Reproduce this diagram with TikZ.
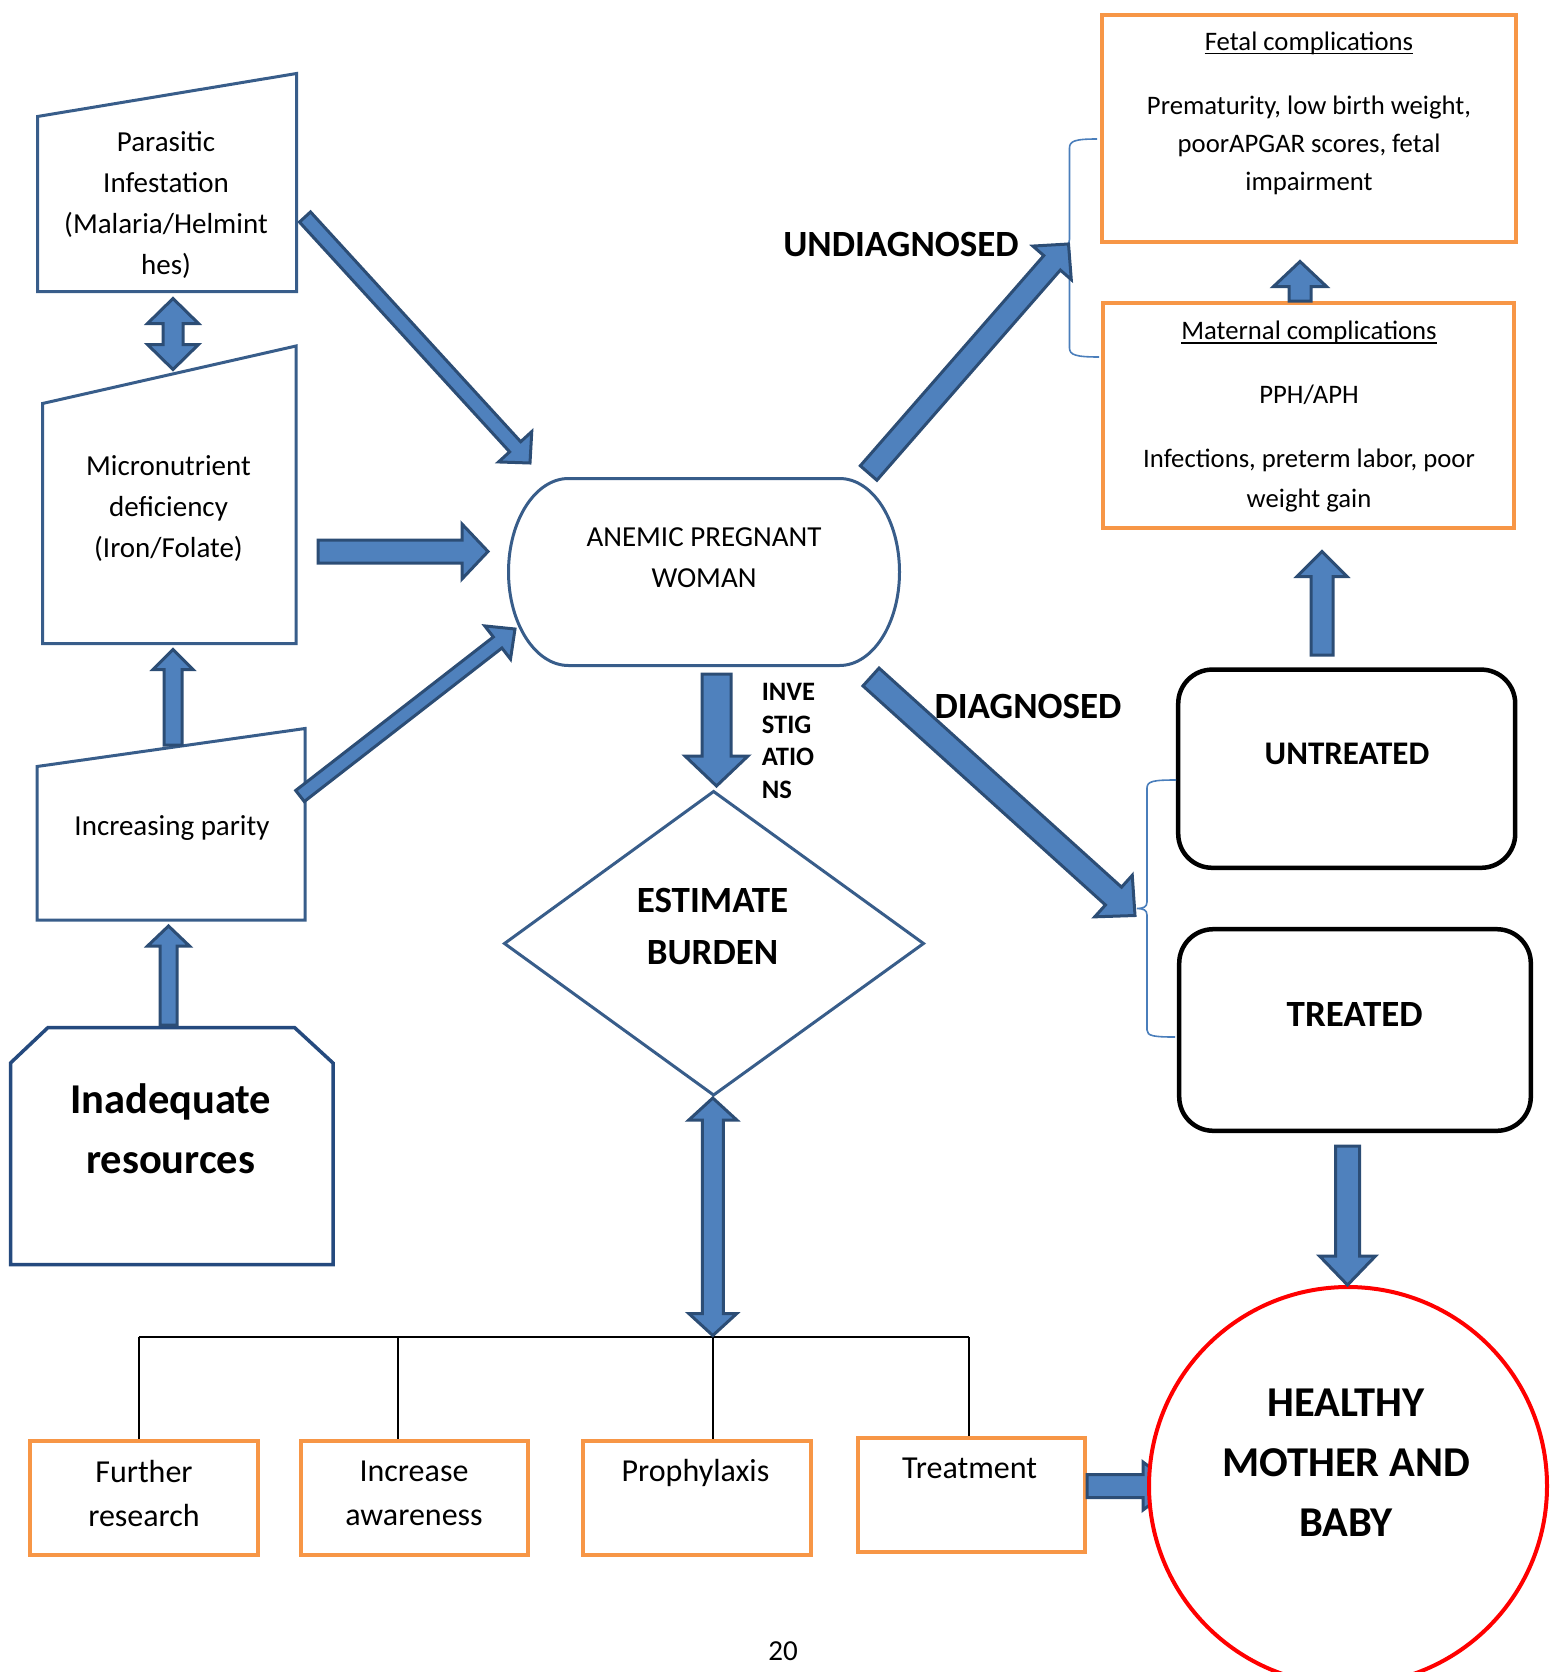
\documentclass[tikz,border=0pt]{standalone}
\usepackage{fontspec}
\setmainfont{Carlito}
\usetikzlibrary{calc}
\definecolor{boxblue}{HTML}{385D8A}
\definecolor{deepblue}{HTML}{254A7E}
\definecolor{arrline}{HTML}{2C4D75}
\definecolor{arrfill}{HTML}{4F81BD}
\definecolor{orangeline}{HTML}{F79646}
\definecolor{braceline}{HTML}{4A7EBB}
\definecolor{redline}{HTML}{FF0000}
\tikzset{
  bluebox/.style={draw=boxblue, line width=3pt, fill=white},
  barrow/.style={draw=arrline, fill=arrfill, line width=3pt, line join=miter},
  orangebox/.style={draw=orangeline, line width=4pt},
  blackbox/.style={draw=black, line width=4.5pt, rounded corners=34pt},
  bracepath/.style={draw=braceline, line width=1.6pt},
  treeline/.style={draw=black, line width=2pt},
  lbl/.style={inner sep=0pt, align=center, text=black},
  reg/.style={lbl, font=\fontsize{29pt}{41pt}\selectfont},
  sml/.style={lbl, font=\fontsize{26.7pt}{38pt}\selectfont},
  smlwide/.style={lbl, font=\fontsize{26.7pt}{40.4pt}\selectfont},
  med/.style={lbl, font=\fontsize{32pt}{44.7pt}\selectfont},
  bigbold/.style={lbl, font=\bfseries\fontsize{42.5pt}{60pt}\selectfont},
  headbold/.style={lbl, font=\bfseries\fontsize{37pt}{51.5pt}\selectfont},
  untrbold/.style={lbl, font=\bfseries\fontsize{33pt}{40pt}\selectfont},
  invbold/.style={lbl, font=\bfseries\fontsize{26.6pt}{32.7pt}\selectfont},
}
% block arrow: [opts]{start}{end}{shaft half}{head half}{head length}
\newcommand\blockarrow[6][]{%
  \coordinate (bah) at ($(#3)!#6!(#2)$);
  \draw[barrow,#1] ($(#2)!#4!90:(#3)$) -- ($(bah)!#4!-90:(#2)$) -- ($(bah)!#5!-90:(#2)$) -- (#3)
    -- ($(bah)!#5!90:(#2)$) -- ($(bah)!#4!90:(#2)$) -- ($(#2)!#4!-90:(#3)$) -- cycle;}
% double block arrow
\newcommand\dblarrow[6][]{%
  \coordinate (dah) at ($(#2)!#6!(#3)$);
  \coordinate (dbh) at ($(#3)!#6!(#2)$);
  \draw[barrow,#1] (#2) -- ($(dah)!#5!90:(#3)$) -- ($(dah)!#4!90:(#3)$) -- ($(dbh)!#4!-90:(#2)$)
    -- ($(dbh)!#5!-90:(#2)$) -- (#3) -- ($(dbh)!#5!90:(#2)$) -- ($(dbh)!#4!90:(#2)$)
    -- ($(dah)!#4!-90:(#3)$) -- ($(dah)!#5!-90:(#3)$) -- cycle;}
\begin{document}
\begin{tikzpicture}[x=1pt,y=-1pt]
\useasboundingbox (0,0) rectangle (1552,1672);
\clip (0,0) rectangle (1552,1672);

% ---------- left column shapes ----------
\draw[bluebox] (37.5,116.5) -- (296.5,73.5) -- (296.5,291.5) -- (37.5,291.5) -- cycle;
\draw[bluebox] (42.5,403.5) -- (296,346) -- (296,643.5) -- (42.5,643.5) -- cycle;
\draw[bluebox] (37,766.5) -- (305,728.5) -- (305,920) -- (37,920) -- cycle;
\draw[draw=deepblue, line width=3.5pt, fill=white] (48,1027.5) -- (294.5,1027.5) -- (333,1063) -- (333,1264.5) -- (10.5,1264.5) -- (10.5,1063) -- cycle;

% ---------- centre shapes ----------
\draw[bluebox] (568.5,478.5) -- (839.5,478.5) arc[start angle=90,end angle=-90,x radius=60pt,y radius=93.5pt]
  -- (568.5,665.5) arc[start angle=-90,end angle=-270,x radius=60pt,y radius=93.5pt] -- cycle;
\draw[bluebox] (713.6,791.5) -- (923.5,943.5) -- (713.6,1095) -- (504.5,943.5) -- cycle;

% ---------- right shapes ----------
\draw[orangebox] (1101.5,15) rectangle (1515.5,242);
\draw[orangebox] (1103,303) rectangle (1514,528);
\draw[blackbox] (1178.2,669.6) rectangle (1515.2,867.8);
\draw[blackbox] (1179.2,929.2) rectangle (1530.8,1130.8);

% braces
\draw[bracepath] (1097,139) .. controls (1075,139) and (1069.5,141) .. (1069.5,148) -- (1069.5,239)
  .. controls (1069.5,244) and (1067,245) .. (1063,245.5) .. controls (1067,246) and (1069.5,247) .. (1069.5,252)
  -- (1069.5,348) .. controls (1069.5,355) and (1076,357) .. (1099,357);
\draw[bracepath] (1176,780) .. controls (1154,780) and (1147,781) .. (1147,788) -- (1147,902)
  .. controls (1147,907) and (1143,908.5) .. (1137,908.5) .. controls (1143,908.5) and (1147,910) .. (1147,915)
  -- (1147,1030) .. controls (1147,1036) and (1154,1037) .. (1175,1037);

% ---------- bottom boxes and tree ----------
\draw[orangebox] (29.5,1441) rectangle (258,1554.5);
\draw[orangebox] (300.5,1441) rectangle (528,1554.5);
\draw[orangebox] (582.5,1441) rectangle (811,1554.5);
\draw[orangebox] (857.5,1438) rectangle (1085,1551.5);
\coordinate (tl) at (138.6,1336.8);
\coordinate (tr) at (968.5,1336.8);
\coordinate (tm) at (712.8,1336.8);
\coordinate (tb1) at (138.6,1439);
\coordinate (tb2) at (398,1439);
\coordinate (tb3) at (712.8,1439);
\coordinate (tb4) at (968.5,1436);
\draw[treeline] (tl) -- (tr);
\draw[treeline] (tl) -- (tb1);
\draw[treeline] (tb2 |- tl) -- (tb2);
\draw[treeline] (tm) -- (tb3);
\draw[treeline] (tr) -- (tb4);

% ---------- arrows ----------
\coordinate (a1s) at (305,217);   \coordinate (a1e) at (530,463);
\blockarrow{a1s}{a1e}{7.5pt}{22.5pt}{22pt}
\coordinate (a2s) at (318,551.5); \coordinate (a2e) at (488,551.5);
\blockarrow{a2s}{a2e}{11.5pt}{27.5pt}{26pt}
\coordinate (a3s) at (300,796);   \coordinate (a3e) at (515,629);
\blockarrow{a3s}{a3e}{7pt}{21pt}{22pt}
\coordinate (a4s) at (173,298.5); \coordinate (a4e) at (173,369.5);
\dblarrow{a4s}{a4e}{10pt}{25.5pt}{25pt}
\coordinate (a5s) at (173,745);   \coordinate (a5e) at (173,649.5);
\blockarrow{a5s}{a5e}{9pt}{20pt}{20pt}
\coordinate (a6s) at (168.5,1025); \coordinate (a6e) at (168.5,926);
\blockarrow{a6s}{a6e}{8.5pt}{21pt}{20pt}
\coordinate (a7s) at (716.5,674); \coordinate (a7e) at (716.5,786);
\blockarrow{a7s}{a7e}{14.5pt}{31.5pt}{30pt}
\coordinate (a8s) at (712.8,1098); \coordinate (a8e) at (712.8,1335.5);
\dblarrow{a8s}{a8e}{10.5pt}{24pt}{22pt}
\coordinate (a9s) at (871,677);   \coordinate (a9e) at (1135,915.5);
\blockarrow{a9s}{a9e}{12pt}{28pt}{29pt}
\coordinate (a10s) at (868.6,473); \coordinate (a10e) at (1068.5,244);
\blockarrow{a10s}{a10e}{11pt}{25.5pt}{25pt}
\coordinate (a11s) at (1300,301); \coordinate (a11e) at (1300,261.5);
\blockarrow{a11s}{a11e}{11pt}{26.5pt}{25pt}
\coordinate (a12s) at (1322,655); \coordinate (a12e) at (1322,551.5);
\blockarrow{a12s}{a12e}{11pt}{25pt}{25pt}
\coordinate (a13s) at (1347.5,1146); \coordinate (a13e) at (1347.5,1285);
\coordinate (a14s) at (1087,1486); \coordinate (a14e) at (1175,1486);
\blockarrow{a14s}{a14e}{11.5pt}{24pt}{32pt}

% healthy circle (over the arrow head)
\draw[draw=redline, line width=4pt, fill=white] (1348,1486) circle[radius=199pt];
\blockarrow{a13s}{a13e}{12pt}{28pt}{29pt}

% ---------- texts ----------
\node[reg] (t-para) at (166,205) {Parasitic\\Infestation\\(Malaria/Helmint\\hes)};
\node[reg] (t-micro) at (168.5,508.5) {Micronutrient\\deficiency\\(Iron/Folate)};
\node[reg] (t-parity) at (172,827.6) {Increasing parity};
\node[bigbold] (t-inad) at (170.7,1128.8) {Inadequate\\resources};
\node[reg] (t-anemic) at (704,557.5) {ANEMIC PREGNANT\\WOMAN};
\node[invbold, align=left, anchor=west] (t-inv) at (761.6,741) {INVE\\STIG\\ATIO\\NS};
\node[headbold] (t-est) at (712.5,926.7) {ESTIMATE\\BURDEN};
\node[headbold] (t-diag) at (1028,706) {DIAGNOSED};
\node[headbold] (t-undiag) at (901,245) {UNDIAGNOSED};
\node[sml] (t-fetal) at (1309,43.6) {Fetal complications};
\draw[line width=1.5pt] ([yshift=-3pt]t-fetal.base west) -- ([yshift=-3pt]t-fetal.base east);
\node[sml] (t-fetalb) at (1309,145.5) {Prematurity, low birth weight,\\poorAPGAR scores, fetal\\impairment};
\node[sml] (t-mat) at (1309,332.7) {Maternal complications};
\draw[line width=1.5pt] ([yshift=-3pt]t-mat.base west) -- ([yshift=-3pt]t-mat.base east);
\node[sml] (t-pph) at (1309,394.6) {PPH/APH};
\node[smlwide] (t-inf) at (1309,480.3) {Infections, preterm labor, poor\\weight gain};
\node[untrbold] (t-untr) at (1347,754) {UNTREATED};
\node[headbold] (t-tr) at (1354.7,1014.4) {TREATED};
\node[bigbold] (t-healthy) at (1346,1462.8) {HEALTHY\\MOTHER AND\\BABY};
\node[med] (t-further) at (144,1493.4) {Further\\research};
\node[med] (t-incr) at (414,1493.4) {Increase\\awareness};
\node[med] (t-proph) at (695.5,1473) {Prophylaxis};
\node[med] (t-treat) at (969.6,1468.7) {Treatment};
\node[reg] (t-page) at (783,1651) {20};
\end{tikzpicture}
\end{document}
